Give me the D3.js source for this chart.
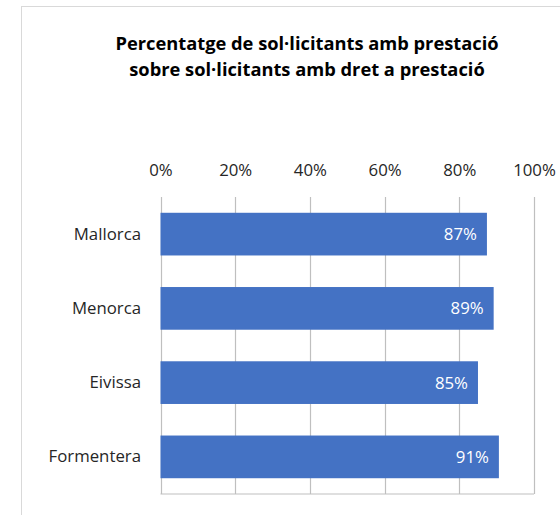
<!DOCTYPE html>
<html><head><meta charset="utf-8">
<script src="https://cdn.jsdelivr.net/npm/d3@7"></script>
<style>body{margin:0;background:#fff;} svg{display:block;font-family:"Open Sans",sans-serif;}</style>
</head><body>
<svg id="c" width="560" height="515"></svg>
<script>
const categories = ["Mallorca", "Menorca", "Eivissa", "Formentera"];
const values = [87.4, 89.2, 85.0, 90.6];
const tickValues = [0, 20, 40, 60, 80, 100];
const titleLines = ["Percentatge de sol·licitants amb prestació", "sobre sol·licitants amb dret a prestació"];

const svg = d3.select("#c");
svg.append("rect").attr("x", 21.5).attr("y", 6.5).attr("width", 600).attr("height", 600)
  .attr("fill", "#fff").attr("stroke", "#d9d9d9");

const x = d3.scaleLinear().domain([0, 100]).range([160.5, 534]);
const y = d3.scaleBand().domain(categories).range([197, 494]).paddingInner(0.425).paddingOuter(0.2125);

svg.selectAll("text.title").data(titleLines).join("text")
  .attr("class", "title").attr("x", 307).attr("y", (d, i) => 50 + i * 26)
  .attr("text-anchor", "middle").attr("font-size", 18.3).attr("font-weight", "bold").attr("fill", "#000")
  .text(d => d);

// gridlines
svg.append("g").selectAll("line").data(tickValues).join("line")
  .attr("x1", d => Math.round(x(d)) + 0.5).attr("x2", d => Math.round(x(d)) + 0.5)
  .attr("y1", 197).attr("y2", 494).attr("stroke", "#bfbfbf").attr("stroke-width", 1.2);
svg.append("line").attr("x1", x(0)).attr("x2", x(100)).attr("y1", 494).attr("y2", 494)
  .attr("stroke", "#bfbfbf").attr("stroke-width", 1.2);

// top axis labels
const ax = d3.axisTop(x).tickValues(tickValues).tickFormat(d => d + "%").tickSize(0).tickPadding(0);
const g = svg.append("g").attr("transform", "translate(0,176)").call(ax);
g.select(".domain").remove();
g.selectAll("text").attr("font-size", 16.8).attr("font-family", "'Open Sans',sans-serif").attr("fill", "#262626");

// bars
svg.append("g").selectAll("rect").data(values).join("rect")
  .attr("x", x(0)).attr("y", (d, i) => y(categories[i]))
  .attr("width", d => x(d) - x(0)).attr("height", y.bandwidth()).attr("fill", "#4472C4");

// data labels
svg.append("g").selectAll("text").data(values).join("text")
  .attr("x", d => x(d) - 10).attr("y", (d, i) => y(categories[i]) + y.bandwidth() / 2)
  .attr("dy", "0.35em").attr("text-anchor", "end").attr("font-size", 16.8).attr("fill", "#fff")
  .text(d => Math.round(d) + "%");

// category labels
const ay = d3.axisLeft(y).tickSize(0).tickPadding(0);
const gy = svg.append("g").attr("transform", "translate(141,0)").call(ay);
gy.select(".domain").remove();
gy.selectAll("text").attr("font-size", 16.8).attr("font-family", "'Open Sans',sans-serif").attr("fill", "#262626");
</script>
</body></html>
